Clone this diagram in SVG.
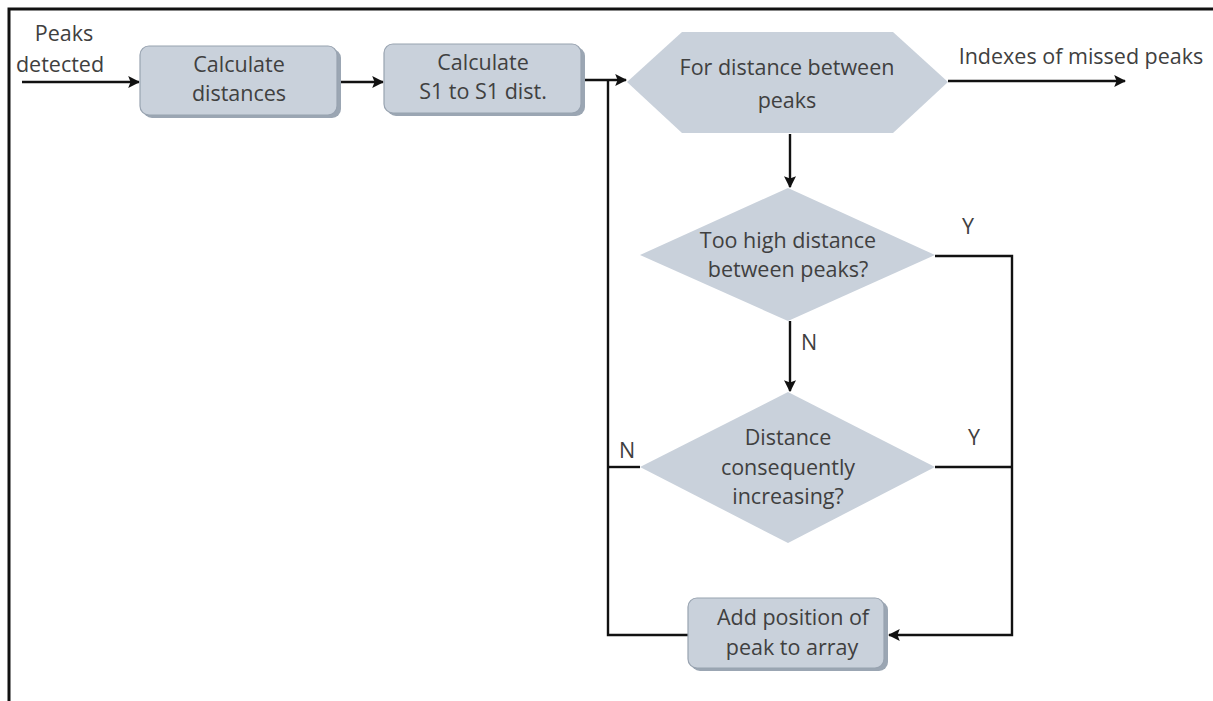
<svg xmlns="http://www.w3.org/2000/svg" width="1213" height="701" viewBox="0 0 1213 701">
<defs>
<style>
text{font-family:"Open Sans","Liberation Sans",sans-serif;font-size:21.5px;fill:#404040;}
.c{text-anchor:middle;}
.box{fill:#c9d1db;stroke:#98a3b0;stroke-width:1.2;}
.sh{fill:#9ba6b3;}
.shape{fill:#c9d1db;}
.ln{fill:none;stroke:#111;stroke-width:2.4;}
</style>
<marker id="ah" viewBox="0 0 10 10" refX="9" refY="5" markerWidth="5" markerHeight="5" orient="auto" markerUnits="strokeWidth">
<path d="M0,0 L10,5 L0,10 L2,5 Z" fill="#111"/>
</marker>
</defs>
<rect x="0" y="0" width="1213" height="701" fill="#fff"/>
<path d="M9,701 V9 H1213" fill="none" stroke="#111" stroke-width="3"/>
<g id="connectors">
<line class="ln" x1="22" y1="82" x2="139" y2="82" marker-end="url(#ah)"/>
<line class="ln" x1="341" y1="82" x2="383" y2="82" marker-end="url(#ah)"/>
<line class="ln" x1="585" y1="80" x2="626" y2="80" marker-end="url(#ah)"/>
<line class="ln" x1="948" y1="81" x2="1125" y2="81" marker-end="url(#ah)"/>
<line class="ln" x1="790" y1="134" x2="790" y2="187" marker-end="url(#ah)"/>
<line class="ln" x1="790" y1="321" x2="790" y2="391" marker-end="url(#ah)"/>
<polyline class="ln" points="935,256 1012,256 1012,635 889,635" marker-end="url(#ah)"/>
<line class="ln" x1="935" y1="467" x2="1012" y2="467"/>
<polyline class="ln" points="640,467 608,467"/>
<polyline class="ln" points="688,635 608,635 608,80"/>
</g>
<g id="n-peaks-detected">
<text x="64" y="41" class="c">Peaks</text>
<text x="60" y="72" class="c">detected</text>
</g>
<g id="n-calc-dist">
<rect class="sh" x="143" y="49" width="198" height="69" rx="9"/>
<rect class="box" x="140" y="46" width="197" height="69" rx="9"/>
<text x="239" y="72" class="c">Calculate</text>
<text x="239" y="101" class="c">distances</text>
</g>
<g id="n-calc-s1">
<rect class="sh" x="387" y="47" width="198" height="69" rx="9"/>
<rect class="box" x="384" y="44" width="197" height="69" rx="9"/>
<text x="483" y="70" class="c">Calculate</text>
<text x="483" y="99" class="c">S1 to S1 dist.</text>
</g>
<g id="n-for">
<polygon class="shape" points="627,82 682,32 893,32 948,82 893,133 682,133"/>
<text x="787" y="75" class="c">For distance between</text>
<text x="787" y="108" class="c">peaks</text>
</g>
<g id="n-output">
<text x="1081" y="64" class="c">Indexes of missed peaks</text>
</g>
<g id="n-too-high">
<polygon class="shape" points="788,188 935,255 788,321 640,255"/>
<text x="788" y="248" class="c">Too high distance</text>
<text x="788" y="277" class="c">between peaks?</text>
</g>
<g id="n-consequent">
<polygon class="shape" points="788,392 935,467 788,543 640,467"/>
<text x="788" y="445" class="c">Distance</text>
<text x="788" y="475" class="c">consequently</text>
<text x="788" y="504" class="c">increasing?</text>
</g>
<g id="n-add">
<rect class="sh" x="691" y="601" width="197" height="70" rx="9"/>
<rect class="box" x="688" y="598" width="196" height="70" rx="9"/>
<text x="793" y="625" class="c">Add position of</text>
<text x="792" y="655" class="c">peak to array</text>
</g>
<g id="labels">
<text x="968" y="234" class="c">Y</text>
<text x="809" y="350" class="c">N</text>
<text x="974" y="445" class="c">Y</text>
<text x="627" y="458" class="c">N</text>
</g>
</svg>
